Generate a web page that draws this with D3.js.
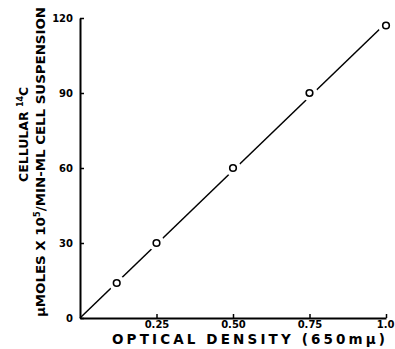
<!DOCTYPE html>
<html lang="en">
<head>
  <meta charset="UTF-8">
  <title>Cellular 14C vs optical density</title>
  <script src="https://d3js.org/d3.v7.min.js"></script>
  <style>
    body, html {
      margin: 0;
      padding: 0;
      background: #fff;
    }
    svg {
      display: block;
    }
    .axis path, .axis line {
      stroke: #000;
    }
    .axis path {
      stroke-width: 2px;
    }
    .axis line {
      stroke-width: 1.5px;
    }
    .axis text {
      font-family: "DejaVu Sans", sans-serif;
      font-weight: bold;
      font-size: 10px;
      fill: #000;
    }
    .title {
      font-family: "DejaVu Sans", sans-serif;
      font-weight: bold;
      fill: #000;
    }
  </style>
</head>
<body>
  <div id="chart"></div>

  <script>
    // values
    const opticalDensity = [0.12, 0.25, 0.50, 0.75, 1.0];
    const cellular14C = [14, 30, 60, 90, 117];

    // straight line drawn through the points
    const fitX = [0, 1.0];
    const fitY = [0, 118];

    const xTicks = [0.25, 0.50, 0.75, 1.0];
    const xTickLabels = ["0.25", "0.50", "0.75", "1.0"];
    const yTicks = [0, 30, 60, 90, 120];

    const width = 395;
    const height = 349;

    const svg = d3.select("#chart")
      .append("svg")
      .attr("width", width)
      .attr("height", height);

    const x = d3.scaleLinear().domain([0, 1]).range([80, 386]);
    const y = d3.scaleLinear().domain([0, 120]).range([318, 18]);

    // line first, so the circles can cut it
    const line = d3.line()
      .x(d => x(d[0]))
      .y(d => y(d[1]));

    svg.append("path")
      .datum(fitX.map((v, i) => [v, fitY[i]]))
      .attr("d", line)
      .attr("fill", "none")
      .attr("stroke", "#000")
      .attr("stroke-width", 1.5);

    // white gap around each marker
    svg.selectAll(".gap")
      .data(opticalDensity)
      .enter().append("circle")
      .attr("class", "gap")
      .attr("cx", d => x(d))
      .attr("cy", (d, i) => y(cellular14C[i]))
      .attr("r", 8)
      .attr("fill", "#fff");

    svg.selectAll(".pt")
      .data(opticalDensity)
      .enter().append("circle")
      .attr("class", "pt")
      .attr("cx", d => x(d))
      .attr("cy", (d, i) => y(cellular14C[i]))
      .attr("r", 3.3)
      .attr("fill", "#fff")
      .attr("stroke", "#000")
      .attr("stroke-width", 1.6);

    // axes
    const xAxis = d3.axisBottom(x)
      .tickValues(xTicks)
      .tickFormat(d => xTickLabels[xTicks.indexOf(d)])
      .tickSizeInner(-4)
      .tickSizeOuter(0)
      .tickPadding(3);

    const gx = svg.append("g")
      .attr("class", "axis")
      .attr("transform", `translate(0,${y(0)})`)
      .call(xAxis);

    // last label is pulled right, kept inside the frame
    gx.selectAll(".tick text")
      .filter(d => d === 1.0)
      .attr("text-anchor", "end")
      .attr("dx", "8");

    const yAxis = d3.axisLeft(y)
      .tickValues(yTicks)
      .tickSizeInner(-4)
      .tickSizeOuter(0)
      .tickPadding(7);

    svg.append("g")
      .attr("class", "axis")
      .attr("transform", `translate(${x(0)},0)`)
      .call(yAxis);

    // axis titles
    svg.append("text")
      .attr("class", "title")
      .attr("x", 112)
      .attr("y", 344)
      .attr("font-size", 13.5)
      .attr("textLength", 273)
      .attr("lengthAdjust", "spacing")
      .text("OPTICAL DENSITY (650m\u03bc)");

    const yt1 = svg.append("text")
      .attr("class", "title")
      .attr("transform", "translate(28,182) rotate(-90)")
      .attr("font-size", 12.5);
    yt1.append("tspan").text("CELLULAR  ");
    yt1.append("tspan").attr("font-size", 8).attr("dy", -5).text("14");
    yt1.append("tspan").attr("dy", 5).text("C");

    const yt2 = svg.append("text")
      .attr("class", "title")
      .attr("transform", "translate(45,317) rotate(-90)")
      .attr("font-size", 12.5)
      .attr("textLength", 310)
      .attr("lengthAdjust", "spacingAndGlyphs");
    yt2.append("tspan").text("\u03bcMOLES X 10");
    yt2.append("tspan").attr("font-size", 8).attr("dy", -5).text("5");
    yt2.append("tspan").attr("dy", 5).text("/MIN-ML CELL SUSPENSION");
  </script>
</body>
</html>
